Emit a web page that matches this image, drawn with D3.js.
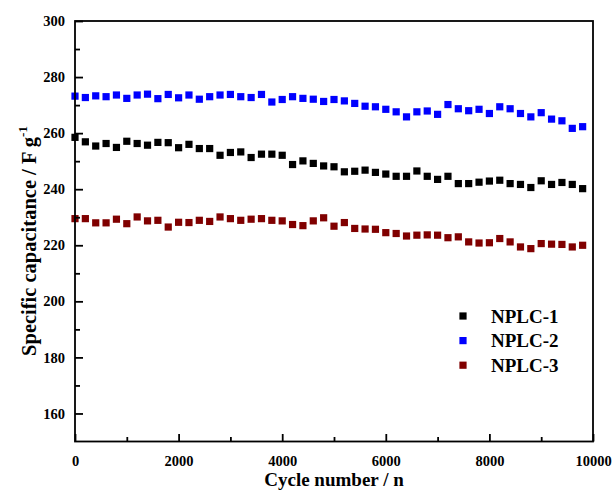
<!DOCTYPE html>
<html>
<head>
<meta charset="utf-8">
<script src="https://cdn.jsdelivr.net/npm/d3@7"></script>
<style>
  html, body { margin: 0; padding: 0; background: #fff; }
  svg { display: block; }
  text { font-family: "Liberation Serif", "Times New Roman", serif; font-weight: bold; fill: #000; }
</style>
</head>
<body>
<svg id="chart" width="614" height="492"></svg>
<script>
const cycles = [0,200,400,600,800,1000,1200,1400,1600,1800,2000,2200,2400,2600,2800,3000,3200,3400,3600,3800,
  4000,4200,4400,4600,4800,5000,5200,5400,5600,5800,6000,6200,6400,6600,6800,7000,7200,7400,7600,7800,
  8000,8200,8400,8600,8800,9000,9200,9400,9600,9800];

const nplc1 = [258.5,256.9,255.4,256.3,254.9,257.1,256.3,255.7,256.7,256.6,254.8,256.0,254.5,254.5,252.1,253.1,253.3,251.3,252.5,252.5,
  252.1,248.8,250.1,249.2,248.3,248.0,246.2,246.4,246.8,246.0,245.4,244.6,244.6,246.5,244.6,243.5,244.6,242.0,242.0,242.5,
  242.9,243.2,242.0,241.7,240.6,243.0,241.7,242.4,241.7,240.2];

const nplc2 = [273.2,272.7,273.3,273.0,273.6,272.4,273.6,273.9,272.3,273.8,272.6,273.6,272.1,273.0,273.6,273.8,273.0,272.7,273.8,271.1,
  272.0,273.0,272.4,272.1,271.3,272.0,271.5,270.6,269.6,269.4,268.5,267.6,265.8,267.6,267.9,266.7,270.2,268.7,268.0,268.5,
  267.0,269.4,268.7,267.0,265.8,267.3,265.0,264.4,261.7,262.3];

const nplc3 = [229.5,229.5,228.0,228.0,229.3,227.7,230.1,228.7,228.9,226.5,228.2,228.1,228.9,228.5,230.1,229.5,228.9,229.3,229.5,228.9,
  228.7,227.4,227.0,228.7,229.8,226.8,228.1,226.0,225.8,225.7,224.5,224.2,223.3,223.6,223.7,223.6,222.7,223.0,221.2,220.8,
  220.9,222.4,221.2,219.4,218.8,220.6,220.4,220.3,219.4,220.0];

const seriesNames = ["NPLC-1", "NPLC-2", "NPLC-3"];
const seriesColors = ["#000000", "#0000ff", "#800000"];
const xTicks = [0,2000,4000,6000,8000,10000];
const xMinorTicks = [1000,3000,5000,7000,9000];
const yTicks = [160,180,200,220,240,260,280,300];
const yMinorTicks = [170,190,210,230,250,270,290];

const series = [nplc1, nplc2, nplc3];

const svg = d3.select("#chart");
const L = 75, R = 593, T = 21, B = 441.5;

const x = d3.scaleLinear().domain([0, 10000]).range([L, R]);
const y = d3.scaleLinear().domain([150, 300]).range([B, T]);

// data points
const sz = 7.2;
series.forEach((vals, si) => {
  svg.append("g")
    .selectAll("rect")
    .data(vals.map((v, i) => [cycles[i], v]))
    .join("rect")
    .attr("x", d => x(d[0]) - sz / 2)
    .attr("y", d => y(d[1]) - sz / 2)
    .attr("width", sz)
    .attr("height", sz)
    .attr("fill", seriesColors[si]);
});

// frame
svg.append("rect")
  .attr("x", L).attr("y", T)
  .attr("width", R - L).attr("height", B - T)
  .attr("fill", "none").attr("stroke", "#000").attr("stroke-width", 1.8);

function styleAxis(g, withText) {
  g.select(".domain").remove();
  g.selectAll(".tick line").attr("stroke", "#000").attr("stroke-width", 1.8);
  if (withText) {
    g.selectAll(".tick text")
      .attr("font-size", 14.5)
      .attr("font-family", "Liberation Serif")
      .attr("font-weight", "bold");
  }
}

// x axis (inward ticks)
styleAxis(svg.append("g").attr("transform", `translate(0,${B})`)
  .call(d3.axisBottom(x).tickValues(xTicks).tickSize(-7.5).tickPadding(14).tickFormat(d3.format("d"))), true);
styleAxis(svg.append("g").attr("transform", `translate(0,${B})`)
  .call(d3.axisBottom(x).tickValues(xMinorTicks).tickSize(-4.5).tickFormat("")), false);

// y axis (inward ticks)
styleAxis(svg.append("g").attr("transform", `translate(${L},0)`)
  .call(d3.axisLeft(y).tickValues(yTicks).tickSize(-8).tickPadding(10).tickFormat(d3.format("d"))), true);
styleAxis(svg.append("g").attr("transform", `translate(${L},0)`)
  .call(d3.axisLeft(y).tickValues(yMinorTicks).tickSize(-5).tickFormat("")), false);

// axis titles
svg.append("text")
  .attr("x", (L + R) / 2).attr("y", 486)
  .attr("text-anchor", "middle")
  .attr("font-size", 19)
  .text("Cycle number / n");

const yt = svg.append("text")
  .attr("transform", `translate(36,241) rotate(-90)`)
  .attr("text-anchor", "middle")
  .attr("font-size", 20.5);
yt.append("tspan").text("Specific capacitance / F g");
yt.append("tspan").attr("dy", -9).attr("font-size", 13).text("-1");

// legend
const legend = svg.append("g");
seriesNames.forEach((name, i) => {
  const cy = 316 + i * 24.6;
  legend.append("rect")
    .attr("x", 463 - 3.6).attr("y", cy - 3.6)
    .attr("width", 7.2).attr("height", 7.2)
    .attr("fill", seriesColors[i]);
  legend.append("text")
    .attr("x", 491).attr("y", cy + 6.5)
    .attr("font-size", 19)
    .text(name);
});
</script>
</body>
</html>
